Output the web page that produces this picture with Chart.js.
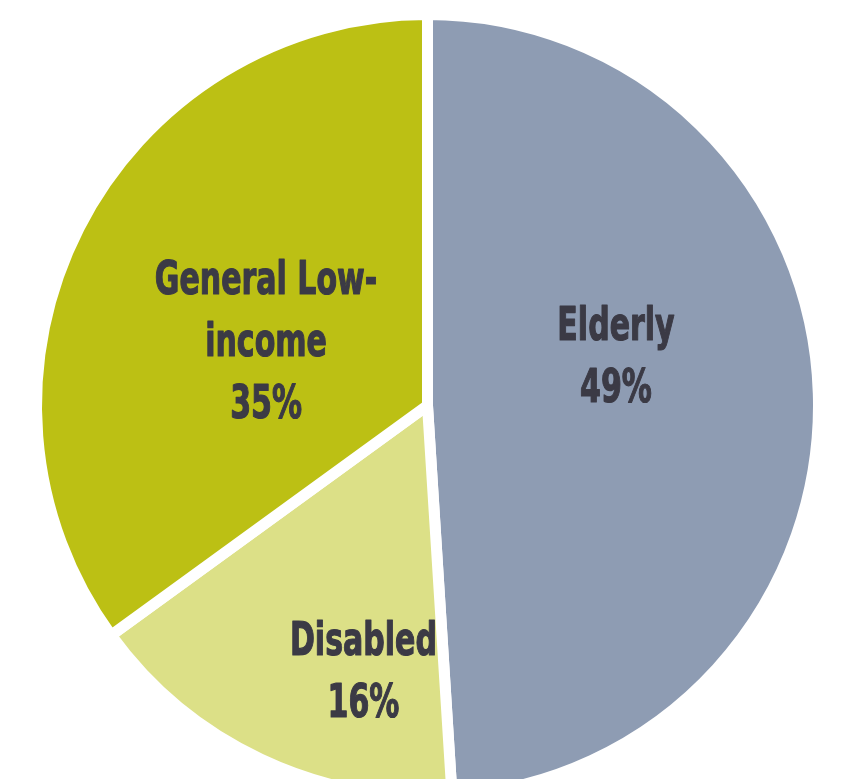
<!DOCTYPE html>
<html>
<head>
<meta charset="utf-8">
<script src="https://cdn.jsdelivr.net/npm/chart.js@4.4.1/dist/chart.umd.min.js"></script>
<style>
  html, body { margin: 0; padding: 0; background: #ffffff; overflow: hidden; }
  #wrap { position: relative; width: 843px; height: 779px; }
</style>
</head>
<body>
<div id="wrap"><canvas id="c"></canvas></div>
<script>
// ---- data (clockwise from 12 o'clock) ----
const categories = ['Elderly', 'Disabled', 'General Low-income'];
const shares = [49, 16, 35];
const labelLines = [['Elderly'], ['Disabled'], ['General Low-', 'income']];
const sliceColors = ['#8E9CB3', '#DCE087', '#BCC014'];

// label placement inside each slice: fraction along the slice's angle, fraction of radius
const labelAngleFrac = [0.423, 0.30, 0.462];
const labelRadiusFrac = [0.50, 0.693, 0.446];

const FONT_SIZE = 47;
const LINE_H = 62;
const SCALE_X = 0.71;

const sliceLabels = {
  id: 'sliceLabels',
  afterDatasetsDraw(chart) {
    const meta = chart.getDatasetMeta(0);
    const ctx = chart.ctx;
    ctx.save();
    ctx.fillStyle = '#3B3A45';
    ctx.strokeStyle = '#3B3A45';
    ctx.lineWidth = 1.2;
    ctx.lineJoin = 'round';
    ctx.font = 'bold ' + FONT_SIZE + 'px "DejaVu Sans Condensed", "DejaVu Sans", sans-serif';
    ctx.textAlign = 'center';
    ctx.textBaseline = 'alphabetic';
    const capH = FONT_SIZE * 0.72;
    meta.data.forEach((arc, i) => {
      const p = arc.getProps(['x', 'y', 'startAngle', 'endAngle', 'outerRadius'], true);
      const a = p.startAngle + labelAngleFrac[i] * (p.endAngle - p.startAngle);
      const r = labelRadiusFrac[i] * p.outerRadius;
      const cx = p.x + Math.cos(a) * r;
      const cy = p.y + Math.sin(a) * r;
      const lines = labelLines[i].concat([shares[i] + '%']);
      const n = lines.length;
      lines.forEach((t, k) => {
        const by = cy + (k - (n - 1) / 2) * LINE_H + capH / 2;
        ctx.save();
        ctx.translate(cx, by);
        ctx.scale(SCALE_X, 1);
        ctx.fillText(t, 0, 0);
        ctx.strokeText(t, 0, 0);
        ctx.restore();
      });
    });
    ctx.restore();
  }
};

new Chart(document.getElementById('c'), {
  type: 'pie',
  data: {
    labels: categories,
    datasets: [{
      data: shares,
      backgroundColor: sliceColors,
      borderColor: '#ffffff',
      borderWidth: 11,
      hoverOffset: 0,
      clip: false
    }]
  },
  options: {
    responsive: true,
    maintainAspectRatio: false,
    animation: false,
    events: [],
    radius: 391,
    layout: { padding: { left: 12, top: 32, right: 0, bottom: 0 } },
    plugins: {
      legend: { display: false },
      tooltip: { enabled: false }
    }
  },
  plugins: [sliceLabels]
});
</script>
</body>
</html>
